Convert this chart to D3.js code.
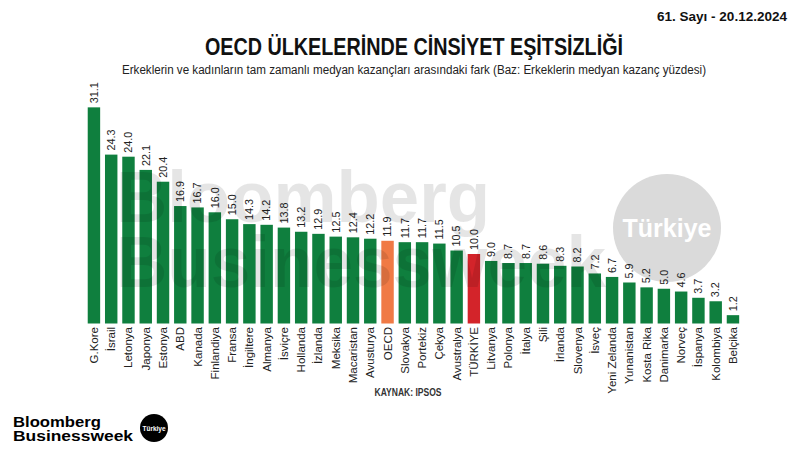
<!DOCTYPE html>
<html><head><meta charset="utf-8">
<script src="https://cdn.jsdelivr.net/npm/d3@7"></script>
<style>body{margin:0;background:#fff}svg{display:block}text{font-family:"Liberation Sans",Arial,sans-serif}</style>
</head><body>
<svg id="c" width="800" height="450"></svg>
<script>
const countries = ["G.Kore","İsrail","Letonya","Japonya","Estonya","ABD","Kanada","Finlandiya","Fransa","İngiltere","Almanya","İsviçre","Hollanda","İzlanda","Meksika","Macaristan","Avusturya","OECD","Slovakya","Portekiz","Çekya","Avustralya","TÜRKİYE","Litvanya","Polonya","İtalya","Şili","İrlanda","Slovenya","İsveç","Yeni Zelanda","Yunanistan","Kosta Rika","Danimarka","Norveç","İspanya","Kolombiya","Belçika"];
const values = [31.1,24.3,24.0,22.1,20.4,16.9,16.7,16.0,15.0,14.3,14.2,13.8,13.2,12.9,12.5,12.4,12.2,11.9,11.7,11.7,11.5,10.5,10.0,9.0,8.7,8.7,8.6,8.3,8.2,7.2,6.7,5.9,5.2,5.0,4.6,3.7,3.2,1.2];
const highlight = {"OECD":"#f07a45","TÜRKİYE":"#d3242a"};
const green = "#0f7f3e";

const svg = d3.select("#c");
const x = d3.scaleBand().domain(countries).range([85.3, 741.6]).paddingInner(0.28).paddingOuter(0.14);
const y = d3.scaleLinear().domain([0, 35]).range([323.5, 323.5 - 35*6.95]);

// header
svg.append("text").attr("x",787).attr("y",21).attr("text-anchor","end")
  .attr("font-size",13).attr("font-weight","bold").attr("fill","#111")
  .attr("textLength",130).attr("lengthAdjust","spacingAndGlyphs").text("61. Sayı - 20.12.2024");
svg.append("text").attr("x",414).attr("y",55).attr("text-anchor","middle")
  .attr("font-size",24).attr("font-weight","bold").attr("fill","#111")
  .attr("textLength",418).attr("lengthAdjust","spacingAndGlyphs").text("OECD ÜLKELERİNDE CİNSİYET EŞİTSİZLİĞİ");
svg.append("text").attr("x",414).attr("y",74).attr("text-anchor","middle")
  .attr("font-size",12).attr("fill","#222")
  .attr("textLength",584).attr("lengthAdjust","spacingAndGlyphs").text("Erkeklerin ve kadınların tam zamanlı medyan kazançları arasındaki fark (Baz: Erkeklerin medyan kazanç yüzdesi)");

// circle watermark
svg.append("circle").attr("cx",667).attr("cy",228).attr("r",54).attr("fill","#dadada");
svg.append("text").attr("x",667).attr("y",237).attr("text-anchor","middle")
  .attr("font-size",25).attr("font-weight","bold").attr("fill","#fff").text("Türkiye");

// bars
svg.append("g").selectAll("rect").data(countries).join("rect")
  .attr("x", d => x(d)).attr("width", x.bandwidth())
  .attr("y", (d,i) => y(values[i])).attr("height", (d,i) => y(0) - y(values[i]))
  .attr("fill", d => highlight[d] || green);

// value labels
svg.append("g").selectAll("text").data(countries).join("text")
  .attr("transform", (d,i) => `translate(${x(d)+x.bandwidth()/2+3.8},${y(values[i])-4}) rotate(-90)`)
  .attr("font-size",10.8).attr("fill","#222").text((d,i) => values[i].toFixed(1));

// category labels
svg.append("g").selectAll("text").data(countries).join("text")
  .attr("transform", d => `translate(${x(d)+x.bandwidth()/2+4},327) rotate(-90)`)
  .attr("text-anchor","end").attr("font-size",11.5).attr("fill","#222").text(d => d);

// big watermark text
const wm = svg.append("g").attr("fill","#000").attr("fill-opacity",0.1).attr("font-weight","bold").attr("font-size",72);
wm.append("text").attr("x",116).attr("y",222).attr("textLength",374).attr("lengthAdjust","spacingAndGlyphs").text("Bloomberg");
wm.append("text").attr("x",116).attr("y",287).attr("textLength",490).attr("lengthAdjust","spacingAndGlyphs").text("Businessweek");

// source
svg.append("text").attr("x",408).attr("y",396).attr("text-anchor","middle")
  .attr("font-size",10).attr("font-weight","bold").attr("fill","#333")
  .attr("textLength",67).attr("lengthAdjust","spacingAndGlyphs").text("KAYNAK: IPSOS");

// logo
svg.append("text").attr("x",13).attr("y",427).attr("font-size",15.5).attr("font-weight","bold").attr("fill","#000")
  .attr("textLength",88).attr("lengthAdjust","spacingAndGlyphs").text("Bloomberg");
svg.append("text").attr("x",13).attr("y",441).attr("font-size",15.5).attr("font-weight","bold").attr("fill","#000")
  .attr("textLength",120).attr("lengthAdjust","spacingAndGlyphs").text("Businessweek");
svg.append("circle").attr("cx",154).attr("cy",428).attr("r",14).attr("fill","#000");
svg.append("text").attr("x",154).attr("y",430.5).attr("text-anchor","middle").attr("font-size",6.5).attr("font-weight","bold").attr("fill","#fff").text("Türkiye");
</script>
</body></html>
